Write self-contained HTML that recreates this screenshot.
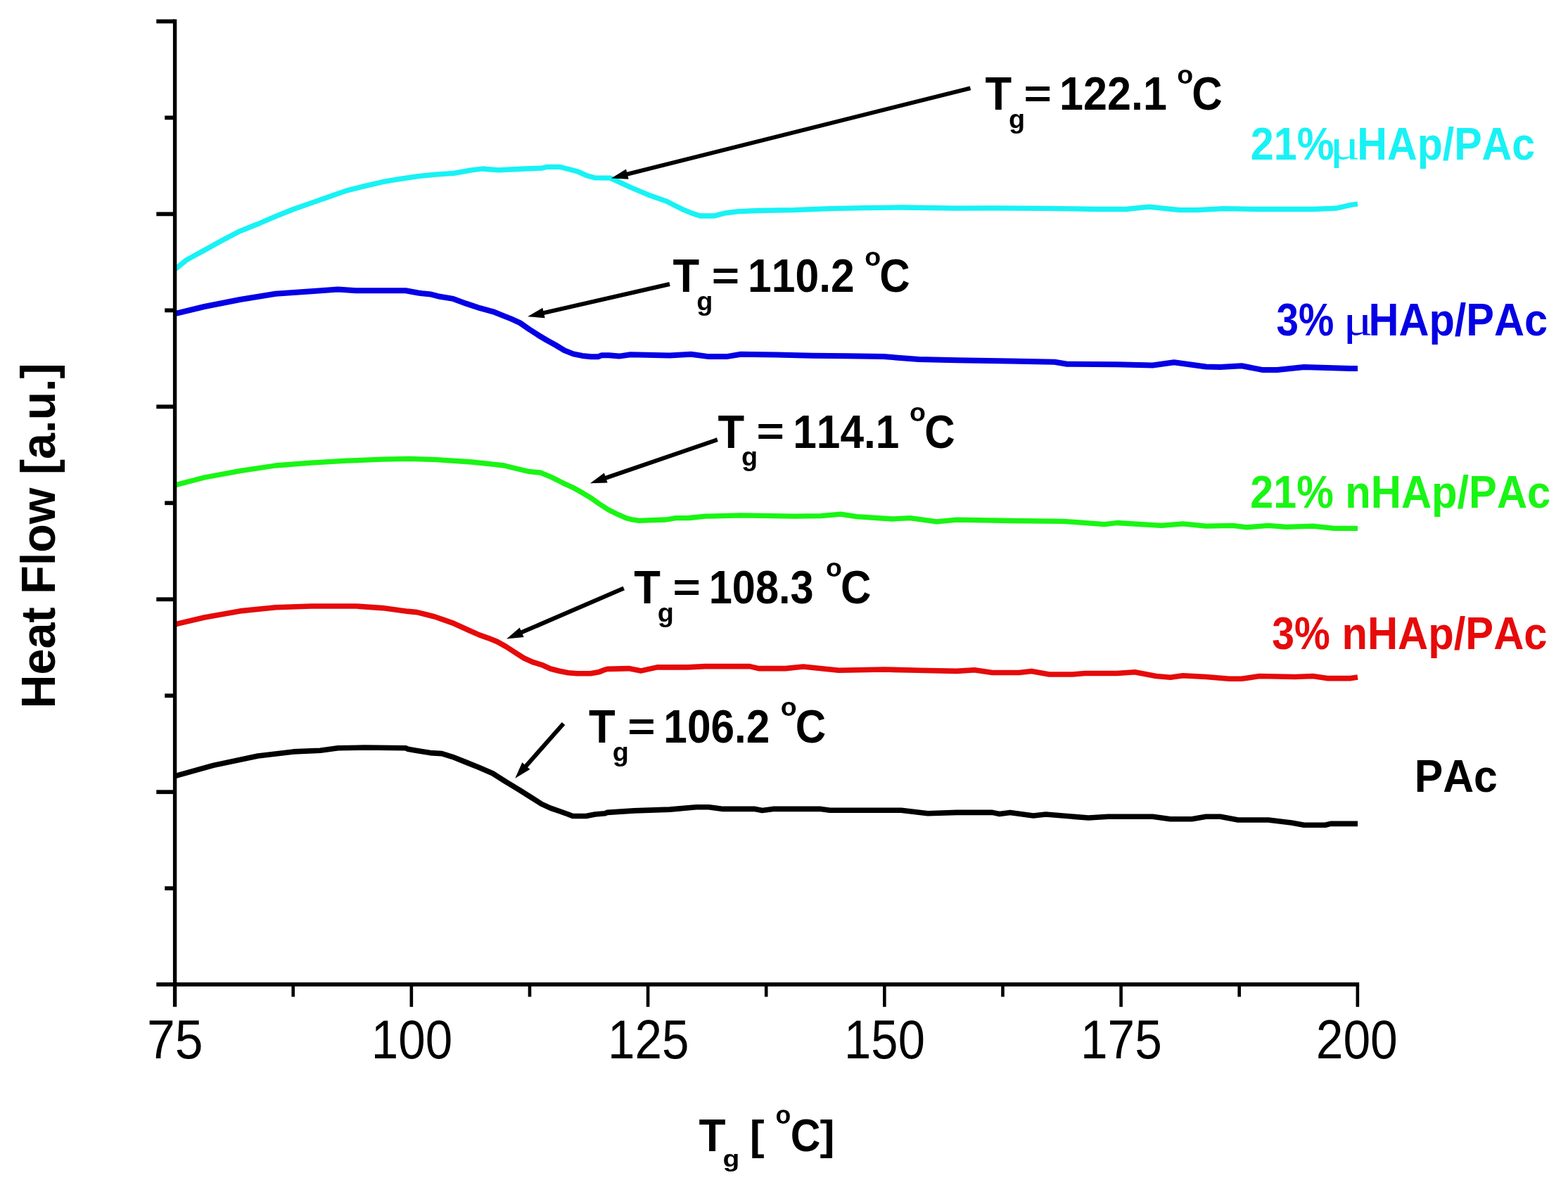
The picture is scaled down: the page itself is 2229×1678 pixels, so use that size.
<!DOCTYPE html>
<html lang="en"><head><meta charset="utf-8">
<title>DSC heat flow curves - glass transition temperatures</title>
<style>
html,body{margin:0;padding:0;background:#fff;}
body{width:2229px;height:1678px;overflow:hidden;}
svg{display:block;}
text{font-family:"Liberation Sans",Arial,Helvetica,sans-serif;font-kerning:none;white-space:pre;}
.b{font-weight:bold;}
.r{font-weight:normal;}
.s{font-family:"Liberation Serif","DejaVu Serif",serif;font-weight:normal;}
.ax{stroke:#000;fill:none;stroke-linecap:butt;}
.cv{fill:none;stroke-linejoin:round;stroke-linecap:butt;}
.ar{stroke:#000;fill:none;stroke-linecap:butt;}
</style></head><body>
<svg width="2229" height="1678" viewBox="0 0 2229 1678">
<rect x="0" y="0" width="2229" height="1678" fill="#ffffff"/>
<g id="curves">
<path class="cv" d="M248.4 1103.7 L303.3 1088.4 L366.6 1075 L417.2 1068.9 L455.2 1067.3 L480.5 1063.8 L518.5 1063 L576.7 1063.8 L580 1065.2 L592.7 1067.5 L611.6 1070.6 L628.1 1071.6 L643.3 1076.3 L662.3 1083.9 L681.3 1091.5 L700.3 1099.7 L719.2 1111.8 L738.2 1123.2 L757.2 1135.2 L769.9 1143.4 L782.5 1149.1 L795.2 1153.5 L807.8 1158 L814.2 1160.5 L833.2 1160.5 L845.8 1158 L860 1156.7 L863.3 1155.4 L901.3 1152.9 L951.9 1151.1 L989.9 1147.8 L1007.6 1147.8 L1027.8 1150.4 L1073.4 1150.4 L1083.5 1152.4 L1098.7 1150.4 L1167 1150.4 L1179.7 1152.2 L1281 1152.2 L1319 1156.7 L1360 1155.4 L1410.6 1155.4 L1420.8 1157.5 L1436 1155.4 L1468.9 1160 L1486.6 1158 L1547.3 1163 L1575.2 1161.3 L1638.5 1161.3 L1663.8 1164.8 L1694.2 1164.8 L1714.4 1161.3 L1734.7 1161.3 L1760 1166 L1803 1166 L1836 1169.9 L1853.7 1173.2 L1884 1173.2 L1891.6 1171.4 L1920 1171.4 L1930 1171.4" stroke="#000000" stroke-width="7.6"/>
<path class="cv" d="M248.4 888 L290.6 878 L341.3 868.9 L391.9 863.8 L442.5 862 L505.8 862 L543.8 864.6 L580 869.4 L592.7 870.6 L605.3 873.8 L618 877 L630.6 881.4 L643.3 885.8 L655.9 891.5 L668.6 897.2 L681.3 902.9 L693.9 907.3 L706.6 912.4 L719.2 919.4 L731.9 927.6 L744.6 935.8 L757.2 941.5 L769.9 945.3 L782.5 951 L795.2 954.2 L807.8 956.7 L820.5 957.7 L839.5 957.7 L852.2 955.4 L860 952.3 L863.3 951.4 L893.7 950.6 L911.4 953.9 L934.2 948.9 L977.2 948.9 L1002.5 947.6 L1065.8 947.6 L1078.5 950.6 L1116.5 950.6 L1141.8 948 L1192.4 953.2 L1255.7 952 L1306.3 953.2 L1360 954.4 L1385.3 952.7 L1410.6 956.5 L1448.6 956.5 L1466.3 954.4 L1491.6 959 L1524.6 959 L1542.3 957.5 L1587.8 957.5 L1613.2 955.7 L1643.5 961.5 L1663.8 963.3 L1681.5 960.8 L1714.4 962.5 L1747.3 965.3 L1765 965.3 L1790.4 961.5 L1841 962.5 L1866.3 961.5 L1886.6 964.6 L1920 964.6 L1930 963" stroke="#E60A0A" stroke-width="7.6"/>
<path class="cv" d="M248.4 690 L290.6 679 L341.3 669.6 L391.9 662 L442.5 658.2 L493.2 655.2 L543.8 653.2 L581.8 652.4 L619.7 653.7 L670.4 657 L700 660.1 L716.5 662 L731.6 665.8 L750.6 670.3 L768.4 672.2 L782.3 677.8 L801.3 687.3 L813.9 693 L826.6 700 L839.2 707.6 L851.9 716.5 L864.6 724.7 L877.2 731 L889.9 736.7 L900 739.2 L908.9 740.3 L921.5 739.9 L946.8 739 L960.8 736.7 L980 736.5 L1002.5 734.2 L1053.2 732.9 L1129 734.2 L1167 733.7 L1194.9 731.1 L1217.7 734.7 L1268.4 738 L1293.7 736.7 L1331.6 741.8 L1360 739.2 L1436 740.5 L1512 741.3 L1570 745.6 L1587.8 743.5 L1651 747.3 L1681.5 744.8 L1714.4 748.1 L1752.4 747.3 L1772.7 749.9 L1803 747.3 L1828.4 749.4 L1866.3 748.1 L1896.7 751.4 L1920 751.4 L1930 751.4" stroke="#19F514" stroke-width="7.3"/>
<path class="cv" d="M248.4 446.2 L290.6 436 L341.3 426 L391.9 417.7 L442.5 414.2 L480.5 411.4 L505.8 413.2 L576.7 413.2 L594.4 416.5 L600 417.3 L612.7 418.6 L625.3 421.8 L644.3 424.9 L663.3 431.9 L682.3 438.2 L701.3 443.3 L713.9 448.4 L726.6 453.4 L739.2 459.1 L751.9 468 L764.6 476.2 L777.2 483.8 L789.9 490.8 L802.5 498.4 L815.2 503.4 L827.8 505.9 L840.5 507.2 L850.6 507.2 L855 505.3 L865.8 505.3 L880 506.6 L896.2 504.3 L951.9 505.6 L982.3 503.8 L1007.6 507.1 L1032.9 507.1 L1053.2 503.8 L1103.8 504.6 L1154.4 505.8 L1205 506.3 L1255.7 507.1 L1306.3 510.9 L1360 512.2 L1436 513.4 L1499.2 514.7 L1517 517.7 L1587.8 518.2 L1638.5 519.5 L1668.9 515.2 L1714.4 521.5 L1734.7 522 L1765 520.3 L1795.4 526.1 L1815.7 526.1 L1853.7 522 L1920 524 L1930 524" stroke="#0500E4" stroke-width="8"/>
<path class="cv" d="M248.4 383.2 L265.3 369.6 L290.6 355.7 L316 341.8 L341.3 328.6 L366.6 318.5 L391.9 307.6 L417.2 297.5 L442.5 288.6 L467.8 279.7 L493.2 270.9 L518.5 264.6 L543.8 258.7 L569.1 254.4 L594.4 250.6 L619.7 248.1 L645.1 246.3 L670.4 241.8 L685.6 240 L708.4 241.8 L746.3 240 L770 239.2 L777.6 237.3 L795.3 237.3 L808 240.5 L820.6 243.7 L833.3 249.4 L845.9 252.9 L867.5 253.2 L877.6 257.6 L896.6 266.5 L921.9 277.2 L947.2 286.1 L959.9 292.4 L972.5 298.7 L985.2 303.8 L995.3 307 L1015.6 307 L1029.5 303.2 L1050 300.6 L1078.5 299.5 L1129 298.7 L1179.7 296.7 L1230.4 295.7 L1281 295 L1360 296.2 L1410.6 295.9 L1486.6 296.4 L1562.5 297.5 L1600.5 297.5 L1633.4 294.2 L1676.5 298.7 L1701.8 298.7 L1739.7 296.7 L1790.4 297.5 L1866.3 297.5 L1899.2 296.2 L1920 291.5 L1930 290" stroke="#18F2F5" stroke-width="7.3"/>
</g>
<g id="axes" class="ax">
<line x1="248.6" y1="27.5" x2="248.6" y2="1431.8" stroke-width="5.4"/>
<line x1="222.3" y1="1399.9" x2="1932.15" y2="1399.9" stroke-width="5.8"/>
<line x1="584.85" y1="1399.9" x2="584.85" y2="1431.8" stroke-width="4.6"/>
<line x1="921.1" y1="1399.9" x2="921.1" y2="1431.8" stroke-width="4.6"/>
<line x1="1257.35" y1="1399.9" x2="1257.35" y2="1431.8" stroke-width="4.6"/>
<line x1="1593.6" y1="1399.9" x2="1593.6" y2="1431.8" stroke-width="4.6"/>
<line x1="1929.85" y1="1399.9" x2="1929.85" y2="1431.8" stroke-width="4.6"/>
<line x1="416.73" y1="1399.9" x2="416.73" y2="1417.5" stroke-width="4.6"/>
<line x1="752.98" y1="1399.9" x2="752.98" y2="1417.5" stroke-width="4.6"/>
<line x1="1089.22" y1="1399.9" x2="1089.22" y2="1417.5" stroke-width="4.6"/>
<line x1="1425.47" y1="1399.9" x2="1425.47" y2="1417.5" stroke-width="4.6"/>
<line x1="1761.72" y1="1399.9" x2="1761.72" y2="1417.5" stroke-width="4.6"/>
<line x1="222.3" y1="30.4" x2="248.6" y2="30.4" stroke-width="5.8"/>
<line x1="222.3" y1="304.36" x2="248.6" y2="304.36" stroke-width="5.8"/>
<line x1="222.3" y1="578.32" x2="248.6" y2="578.32" stroke-width="5.8"/>
<line x1="222.3" y1="852.28" x2="248.6" y2="852.28" stroke-width="5.8"/>
<line x1="222.3" y1="1126.24" x2="248.6" y2="1126.24" stroke-width="5.8"/>
<line x1="234.2" y1="167.38" x2="248.6" y2="167.38" stroke-width="5.8"/>
<line x1="234.2" y1="441.34" x2="248.6" y2="441.34" stroke-width="5.8"/>
<line x1="234.2" y1="715.3" x2="248.6" y2="715.3" stroke-width="5.8"/>
<line x1="234.2" y1="989.26" x2="248.6" y2="989.26" stroke-width="5.8"/>
<line x1="234.2" y1="1263.22" x2="248.6" y2="1263.22" stroke-width="5.8"/>
</g>
<g id="xticklabels">
<text class="r" font-size="78"><tspan x="209.03" y="1505.04" font-size="78.11" textLength="79.57" lengthAdjust="spacingAndGlyphs">75</tspan></text>
<text class="r" font-size="78"><tspan x="527.87" y="1505.05" font-size="76.98" textLength="115.33" lengthAdjust="spacingAndGlyphs">100</tspan></text>
<text class="r" font-size="78"><tspan x="864.06" y="1505.05" font-size="76.98" textLength="115.55" lengthAdjust="spacingAndGlyphs">125</tspan></text>
<text class="r" font-size="78"><tspan x="1200.11" y="1505.05" font-size="76.98" textLength="114.78" lengthAdjust="spacingAndGlyphs">150</tspan></text>
<text class="r" font-size="78"><tspan x="1535.94" y="1505.04" font-size="78.11" textLength="115.88" lengthAdjust="spacingAndGlyphs">175</tspan></text>
<text class="r" font-size="78"><tspan x="1870.7" y="1505.05" font-size="76.98" textLength="116.12" lengthAdjust="spacingAndGlyphs">200</tspan></text>
</g>
<g id="arrows">
<line class="ar" x1="1379.5" y1="125.3" x2="888.88" y2="248.41" stroke-width="6"/>
<polygon points="869,253.4 889.99,240.5 893.59,254.86"/>
<line class="ar" x1="952" y1="404" x2="770.08" y2="445.63" stroke-width="6"/>
<polygon points="750.1,450.2 771.36,437.74 774.66,452.17"/>
<line class="ar" x1="1019.8" y1="625.2" x2="858.39" y2="680.55" stroke-width="6"/>
<polygon points="839,687.2 858.83,672.58 863.63,686.58"/>
<line class="ar" x1="886.8" y1="836.4" x2="738.92" y2="900.36" stroke-width="6"/>
<polygon points="720.1,908.5 738.73,892.38 744.61,905.96"/>
<line class="ar" x1="801" y1="1028.9" x2="745.86" y2="1091.42" stroke-width="6"/>
<polygon points="732.3,1106.8 742.29,1084.28 753.39,1094.07"/>
</g>
<g id="tglabels">
<text class="b" font-size="65.9"><tspan x="1400.41" y="156.2" textLength="37.65" lengthAdjust="spacingAndGlyphs">T</tspan><tspan x="1434.05" y="182.18" font-size="37.84" textLength="23.08" lengthAdjust="spacingAndGlyphs">g</tspan><tspan x="1455.6" y="152.12" font-size="55.04" textLength="39.36" lengthAdjust="spacingAndGlyphs">=</tspan> <tspan x="1505.97" y="156.2" textLength="152.89" lengthAdjust="spacingAndGlyphs">122.1</tspan> <tspan x="1673.13" y="118.73" font-size="37.42" textLength="22.93" lengthAdjust="spacingAndGlyphs">o</tspan><tspan x="1694.13" y="156.2" textLength="43.41" lengthAdjust="spacingAndGlyphs">C</tspan></text>
<text class="b" font-size="65.9"><tspan x="956.51" y="415.2" textLength="37.65" lengthAdjust="spacingAndGlyphs">T</tspan><tspan x="990.15" y="441.18" font-size="37.84" textLength="23.08" lengthAdjust="spacingAndGlyphs">g</tspan><tspan x="1011.7" y="411.12" font-size="55.04" textLength="39.36" lengthAdjust="spacingAndGlyphs">=</tspan> <tspan x="1063.11" y="415.2" textLength="151.62" lengthAdjust="spacingAndGlyphs">110.2</tspan> <tspan x="1229.23" y="377.73" font-size="37.42" textLength="22.93" lengthAdjust="spacingAndGlyphs">o</tspan><tspan x="1250.23" y="415.2" textLength="43.41" lengthAdjust="spacingAndGlyphs">C</tspan></text>
<text class="b" font-size="65.9"><tspan x="1020.41" y="636.5" textLength="37.65" lengthAdjust="spacingAndGlyphs">T</tspan><tspan x="1054.05" y="662.48" font-size="37.84" textLength="23.08" lengthAdjust="spacingAndGlyphs">g</tspan><tspan x="1075.6" y="632.42" font-size="55.04" textLength="39.36" lengthAdjust="spacingAndGlyphs">=</tspan> <tspan x="1127.22" y="636.5" textLength="151.22" lengthAdjust="spacingAndGlyphs">114.1</tspan> <tspan x="1293.13" y="599.03" font-size="37.42" textLength="22.93" lengthAdjust="spacingAndGlyphs">o</tspan><tspan x="1314.13" y="636.5" textLength="43.41" lengthAdjust="spacingAndGlyphs">C</tspan></text>
<text class="b" font-size="65.9"><tspan x="901.21" y="857.8" textLength="37.65" lengthAdjust="spacingAndGlyphs">T</tspan><tspan x="934.85" y="883.78" font-size="37.84" textLength="23.08" lengthAdjust="spacingAndGlyphs">g</tspan><tspan x="956.4" y="853.72" font-size="55.04" textLength="39.36" lengthAdjust="spacingAndGlyphs">=</tspan> <tspan x="1007.69" y="857.8" textLength="148.96" lengthAdjust="spacingAndGlyphs">108.3</tspan> <tspan x="1173.93" y="820.33" font-size="37.42" textLength="22.93" lengthAdjust="spacingAndGlyphs">o</tspan><tspan x="1194.93" y="857.8" textLength="43.41" lengthAdjust="spacingAndGlyphs">C</tspan></text>
<text class="b" font-size="65.9"><tspan x="837.11" y="1055.8" textLength="37.65" lengthAdjust="spacingAndGlyphs">T</tspan><tspan x="870.75" y="1081.78" font-size="37.84" textLength="23.08" lengthAdjust="spacingAndGlyphs">g</tspan><tspan x="892.3" y="1051.72" font-size="55.04" textLength="39.36" lengthAdjust="spacingAndGlyphs">=</tspan> <tspan x="943.32" y="1055.8" textLength="151.09" lengthAdjust="spacingAndGlyphs">106.2</tspan> <tspan x="1109.83" y="1018.33" font-size="37.42" textLength="22.93" lengthAdjust="spacingAndGlyphs">o</tspan><tspan x="1130.83" y="1055.8" textLength="43.41" lengthAdjust="spacingAndGlyphs">C</tspan></text>
</g>
<g id="serieslabels">
<text class="b" font-size="65.7" fill="#18F2F5"><tspan x="1777.75" y="227" textLength="118.62" lengthAdjust="spacingAndGlyphs">21%</tspan><tspan x="1890.38" y="225.63" font-size="60.64" class="s" textLength="43.12" lengthAdjust="spacingAndGlyphs">μ</tspan><tspan x="1929.35" y="227" textLength="252.68" lengthAdjust="spacingAndGlyphs">HAp/PAc</tspan></text>
<text class="b" font-size="65.7" fill="#0500E4"><tspan x="1814.5" y="477" textLength="81.79" lengthAdjust="spacingAndGlyphs">3%</tspan> <tspan x="1909.22" y="475.63" font-size="60.64" class="s" textLength="42.21" lengthAdjust="spacingAndGlyphs">μ</tspan><tspan x="1945.52" y="477" textLength="254.62" lengthAdjust="spacingAndGlyphs">HAp/PAc</tspan></text>
<text class="b" font-size="65.7" fill="#19F514"><tspan x="1777.35" y="722" textLength="118.41" lengthAdjust="spacingAndGlyphs">21%</tspan> <tspan x="1912.26" y="722" textLength="292.09" lengthAdjust="spacingAndGlyphs">nHAp/PAc</tspan></text>
<text class="b" font-size="65.7" fill="#E60A0A"><tspan x="1808.19" y="922.6" textLength="82.52" lengthAdjust="spacingAndGlyphs">3%</tspan> <tspan x="1907.46" y="922.6" textLength="292.09" lengthAdjust="spacingAndGlyphs">nHAp/PAc</tspan></text>
<text class="b" font-size="65.7" fill="#000000"><tspan x="2010.74" y="1125.9" textLength="118.14" lengthAdjust="spacingAndGlyphs">PAc</tspan></text>
</g>
<g id="axistitles">
<text class="b" font-size="68.5" transform="translate(77.6 1007.45) rotate(-90) scale(0.9704 1)">Heat Flow [a.u.]</text>
<text class="b" font-size="64.7"><tspan x="993.4" y="1636.7" textLength="38.07" lengthAdjust="spacingAndGlyphs">T</tspan><tspan x="1027.5" y="1659.4" font-size="33.98" textLength="23.81" lengthAdjust="spacingAndGlyphs">g</tspan> <tspan x="1065.78" y="1635.27" font-size="59.43" textLength="20.89" lengthAdjust="spacingAndGlyphs">[</tspan> <tspan x="1102.61" y="1598.43" font-size="37.78" textLength="21.79" lengthAdjust="spacingAndGlyphs">o</tspan><tspan x="1123.78" y="1636.7" textLength="42.64" lengthAdjust="spacingAndGlyphs">C</tspan><tspan x="1165.63" y="1635.27" font-size="59.43" textLength="21.14" lengthAdjust="spacingAndGlyphs">]</tspan></text>
</g>
</svg>
</body></html>
